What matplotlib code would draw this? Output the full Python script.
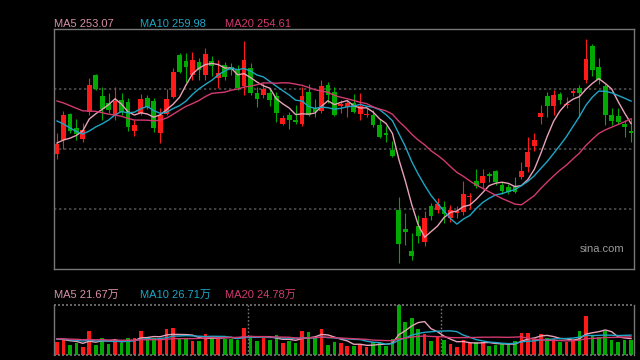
import numpy as np
import pandas as pd
import matplotlib
matplotlib.use('Agg')
import matplotlib.pyplot as plt

plt.rcParams['font.family'] = ['Liberation Sans', 'Noto Sans CJK SC', 'DejaVu Sans']

# daily candles (price), oldest first
opens = [246.5, 250, 256.5, 253, 250.25, 257, 266.25, 261, 259.25, 256,
         260, 259.5, 252.25, 256.75, 260.5, 259.75, 251.75, 256.5, 260.75, 271.25,
         269.75, 266.25, 269.5, 266.25, 269.75, 265.5, 268.75, 268.25, 267.5, 263.5,
         268, 261.75, 261.25, 261.75, 261, 254, 256.25, 255, 254, 262,
         258, 257.25, 263.75, 262, 258.5, 258.25, 259.25, 256.5, 256.25, 256.25,
         253.75, 251.75, 247.5, 232.5, 227.75, 222.25, 228.5, 224.5, 233.5, 232.5,
         233.25, 230.5, 231.75, 232, 235.75, 239.75, 239.25, 241.5, 242.25, 238.75,
         238.25, 238.5, 240.75, 243.25, 248.5, 255.75, 261, 258.5, 261.5, 258.75,
         261.75, 263, 265, 273.5, 268.25, 263.5, 256.25, 256, 254, 252.25]
closes = [249, 256.25, 252.25, 251.5, 252.5, 263.75, 262.75, 257.75, 257.5, 259.75,
          257, 253.25, 253.75, 260.25, 258.25, 253, 256.25, 260.25, 267, 267,
          268.25, 270, 267.5, 271.5, 268.5, 266.75, 265.75, 267.5, 263, 270,
          261.75, 260.25, 262.75, 260, 256.75, 255.5, 255, 254.5, 261, 256.25,
          257, 263.5, 261.25, 256.25, 259, 259.25, 257, 258.5, 256.5, 253.75,
          250.75, 251.25, 246, 224, 227, 221, 226, 230.5, 231, 234,
          231.5, 232.5, 232.25, 236.5, 236, 238.5, 241, 241, 239.5, 237.25,
          237, 237, 242.25, 247, 250, 256.75, 258.5, 261.25, 260, 259,
          262.25, 261.75, 270.25, 267.5, 265, 256.25, 254.75, 254.5, 253.25, 251.75]
highs = [251.75, 257.25, 256.75, 255.25, 254.25, 265.5, 266.5, 263.25, 261.75, 263.25,
         261.75, 260.5, 255, 261.5, 261.25, 260.5, 258, 262.75, 268, 271.75,
         271.75, 272, 270.5, 273, 271, 270, 269.5, 269.25, 268.75, 274.75,
         269.25, 263.25, 264.25, 263, 262, 256.25, 257, 258.75, 263.25, 264,
         260.25, 265, 264.5, 263.25, 260, 260, 261.5, 261.75, 258, 257.5,
         255.25, 253.5, 249.75, 235.75, 231.75, 226.75, 231.25, 232.25, 234.25, 235.5,
         234.75, 233.75, 233.5, 239.75, 236.75, 242.75, 242.75, 242, 242.5, 239.5,
         239, 240.75, 244.5, 250.75, 251.75, 258.75, 262, 262.5, 262, 260.75,
         263, 263.75, 275.25, 274, 270.5, 264, 258, 258, 255, 255.5]
lows = [245.25, 247.75, 251.75, 250, 249.5, 256.25, 262.5, 255, 256.75, 255,
        256.25, 252.25, 251, 256.25, 257.75, 252, 249.25, 256.25, 260.5, 266.75,
        264.5, 265, 265, 265, 266, 263, 265, 266.25, 262.5, 261.25,
        261.25, 258.25, 260.5, 258.5, 254.5, 253.75, 252.75, 254, 253.5, 256,
        255.75, 256.75, 259.25, 256, 256.75, 255.75, 256.75, 255, 255.75, 253.25,
        250.5, 249.5, 245.75, 219.25, 223.75, 220, 224.25, 223.5, 230, 231.75,
        229.25, 229.5, 230.5, 231.25, 232.75, 238, 237.75, 239.5, 238.75, 236.5,
        236.5, 236.75, 240.25, 242, 247.25, 254, 255.75, 256.25, 259, 258,
        261, 255.75, 264.25, 266, 264, 253.75, 253.75, 254, 250.75, 249.5]
# closes before the first visible day (for the moving averages)
pre_closes = [266, 265.5, 265, 265.25, 264.5, 264.75, 264.25, 265, 263.75, 263.5,
              263.75, 262, 260.5, 258.75, 256.25, 252.5, 250, 248, 246.75]

# volume, 万股
volumes = [18.0, 20.3, 13.5, 15.8, 11.2, 32.4, 13.5, 23.0, 14.9, 20.3,
           16.6, 23.0, 23.0, 32.4, 23.0, 23.0, 22.0, 35.1, 36.5, 22.0,
           22.0, 18.9, 18.9, 28.4, 25.7, 22.0, 21.2, 22.0, 20.3, 36.5,
           24.7, 18.9, 23.4, 20.3, 27.0, 16.2, 18.9, 16.6, 32.4, 31.1,
           23.4, 35.1, 13.5, 18.0, 16.6, 12.2, 12.2, 13.5, 10.8, 17.6,
           17.6, 12.6, 21.6, 67.5, 44.6, 50.0, 35.1, 28.4, 18.9, 24.7,
           20.3, 14.9, 10.8, 20.3, 16.6, 17.6, 17.6, 12.2, 13.5, 14.9,
           14.9, 18.9, 29.7, 29.7, 21.6, 28.4, 23.0, 21.6, 17.6, 17.6,
           20.3, 32.4, 52.7, 27.0, 24.7, 32.4, 20.3, 17.6, 20.3, 20.3]
pre_volumes = [20.3, 24.7, 18.9, 22.0, 27.0, 21.6, 19.6, 23.0, 25.7, 18.9,
               21.6, 24.3, 20.3, 22.9, 19.6, 23.6, 21.6, 20.3, 24.3]

price_labels = ['MA5 253.07', 'MA10 259.98', 'MA20 254.61']
vol_labels = ['MA5 21.67万', 'MA10 26.71万', 'MA20 24.78万']
ma_windows = [5, 10, 20]
ma_colors = ['#e8a2b8', '#1ea6c6', '#d23a70']
label_colors = ['#d890aa', '#1ea6c6', '#d23a70']

UP = '#ff1a1a'
DOWN = '#00aa00'
BG = '#000000'

n = len(closes)
x = np.arange(n)
o = np.array(opens)
c = np.array(closes)
up = c >= o
colors = np.where(up, UP, DOWN)

all_c = pd.Series(pre_closes + closes)
all_v = pd.Series(pre_volumes + volumes)
k = len(pre_closes)

fig = plt.figure(figsize=(6.4, 3.6), dpi=100, facecolor=BG)
ax = fig.add_axes([54 / 640, 91 / 360, 580 / 640, 240 / 360], facecolor=BG)
axv = fig.add_axes([54 / 640, 5 / 360, 580 / 640, 50 / 360], facecolor=BG)

# price panel
for yv in [232.75, 247.75, 262.75]:
    ax.axhline(yv, color='#4d4d4d', lw=1.2, ls=(0, (1.4, 1.6)), zorder=0)
ax.vlines(x, lows, highs, colors=colors, lw=0.8, zorder=2)
body_h = np.abs(c - o)
body_h = np.where(body_h < 0.2, 0.2, body_h)
ax.bar(x, body_h, bottom=np.minimum(o, c), width=0.74, color=colors, lw=0, zorder=3)
for w, col in zip(ma_windows, ma_colors):
    ma = all_c.rolling(w).mean().values[k:]
    ax.plot(x, ma, color=col, lw=1.0, zorder=4)
ax.set_xlim(-0.47, 89.46)
ax.set_ylim(217.75, 277.75)
ax.set_xticks([])
ax.set_yticks([])
for s in ax.spines.values():
    s.set_color('#777777')
    s.set_linewidth(1.0)
ax.text(0.945, 0.085, 'sina.com', transform=ax.transAxes, color='#9a9a9a',
        fontsize=8, ha='center', va='center')

# volume panel
axv.bar(x, volumes, width=0.56, color=colors, lw=0, zorder=2)
for w, col in zip(ma_windows, ma_colors):
    vma = all_v.rolling(w).mean().values[k:]
    axv.plot(x, vma, color=col, lw=1.0, zorder=3)
axv.set_xlim(-0.47, 89.46)
axv.set_ylim(0, 67.5)
axv.set_xticks([])
axv.set_yticks([])
for side in ['top', 'bottom']:
    axv.spines[side].set_visible(False)
for side in ['left', 'right']:
    axv.spines[side].set_color('#777777')
    axv.spines[side].set_linewidth(1.0)
for yv in [0, 67.5]:
    axv.axhline(yv, color='#777777', lw=1.2, ls=(0, (1.2, 1.2)), clip_on=False, zorder=4)
for xv in [29.6, 59.5]:
    axv.axvline(xv, color='#777777', lw=1.0, ls=(0, (1.2, 1.5)), zorder=1)

# legend texts
xs = [54, 140, 225]
for xp, t, col in zip(xs, price_labels, label_colors):
    fig.text(xp / 640, 1 - 24 / 360, t, color=col, fontsize=8, ha='left', va='center')
for xp, t, col in zip(xs, vol_labels, label_colors):
    fig.text(xp / 640, 1 - 295 / 360, t, color=col, fontsize=8, ha='left', va='center')

fig.savefig('out.png', dpi=100, facecolor=BG)
